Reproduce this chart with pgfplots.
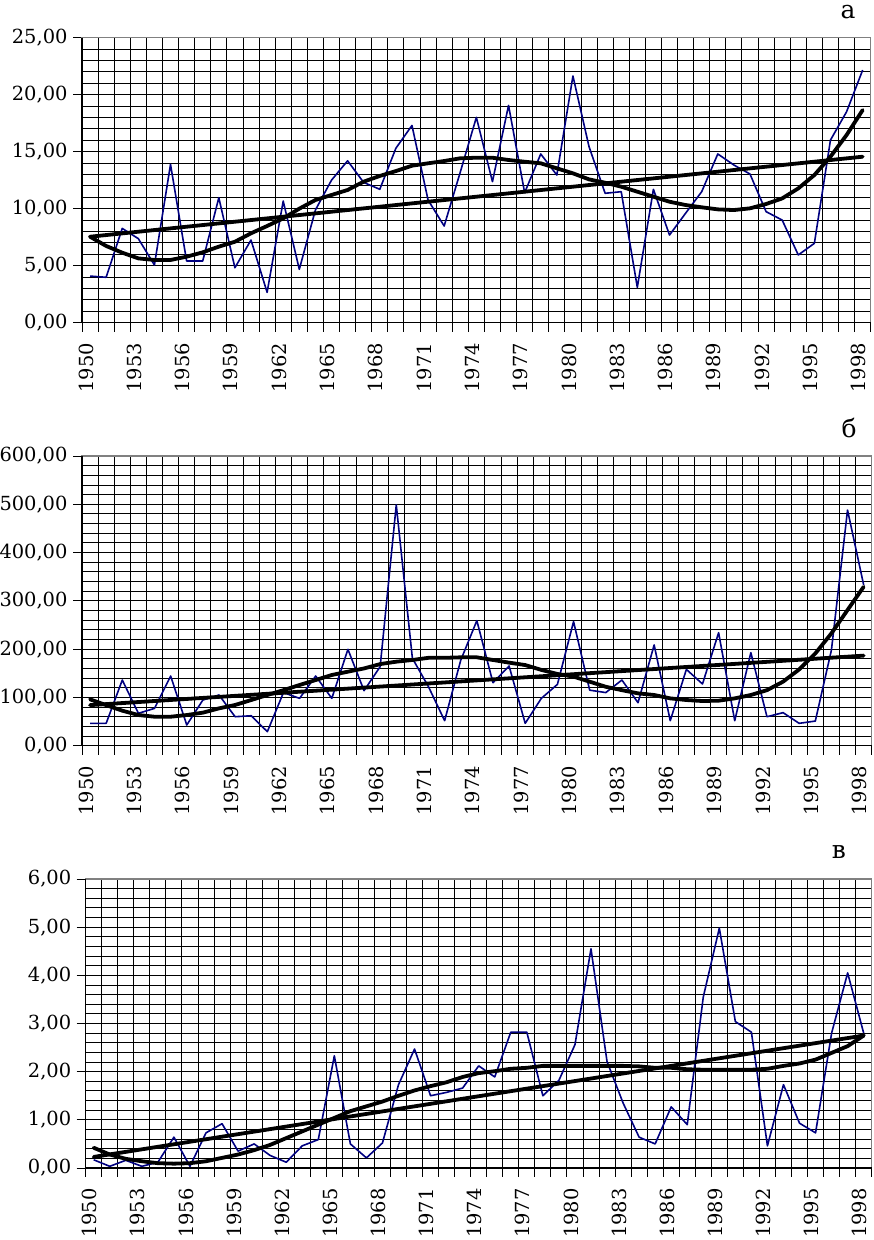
\documentclass[border=0pt]{standalone}
\usepackage{pgfplots}
\pgfplotsset{compat=1.18}
\usepackage{fontspec}
\setmainfont{DejaVu Serif}
\definecolor{navyb}{RGB}{0,0,128}
\definecolor{frameg}{RGB}{128,128,128}

\pgfplotstableread{
year a b c
1950 4.09 46.3 0.17
1951 3.98 46.3 0.035
1952 8.27 136 0.16
1953 7.37 67 0.035
1954 5.06 77.3 0.12
1955 13.89 144.3 0.64
1956 5.41 42.8 0.035
1957 5.41 94.6 0.73
1958 10.96 105 0.92
1959 4.82 60 0.35
1960 7.25 62 0.50
1961 2.66 29 0.26
1962 10.67 110 0.12
1963 4.68 98 0.46
1964 9.88 144.3 0.59
1965 12.5 98 2.33
1966 14.2 199.6 0.50
1967 12.3 114 0.21
1968 11.7 163.7 0.52
1969 15.3 498.6 1.73
1970 17.3 181 2.47
1971 10.76 122 1.50
1972 8.48 51.8 1.57
1973 13.2 177 1.66
1974 18.01 259 2.12
1975 12.37 130.5 1.89
1976 19.06 165 2.82
1977 11.4 46.3 2.82
1978 14.8 98 1.50
1979 12.95 127 1.82
1980 21.64 257 2.56
1981 15.44 115 4.55
1982 11.35 110 2.21
1983 11.49 136 1.35
1984 3.1 89 0.64
1985 11.7 208.6 0.50
1986 7.69 51.8 1.27
1987 9.6 158 0.90
1988 11.49 127.8 3.55
1989 14.8 234 4.98
1990 13.83 51.8 3.04
1991 13.04 192.7 2.82
1992 9.74 60 0.46
1993 9.0 68.4 1.73
1994 5.94 46.3 0.93
1995 6.96 51 0.73
1996 16.02 198 2.80
1997 18.5 488 4.05
1998 22.16 333 2.80
}\rawdata

\pgfplotstableread{
year a b c
1950 7.54 96 0.42
1951 6.73 84 0.28
1952 6.14 72.5 0.19
1953 5.64 63.5 0.14
1954 5.50 60 0.10
1955 5.50 60 0.09
1956 5.79 63.5 0.10
1957 6.17 68.4 0.14
1958 6.67 77.3 0.21
1959 7.10 84.3 0.28
1960 7.84 94.6 0.37
1961 8.48 105 0.48
1962 9.15 115 0.62
1963 10.0 125.7 0.76
1964 10.76 136 0.90
1965 11.2 146.4 1.04
1966 11.64 153.3 1.18
1967 12.37 160 1.28
1968 12.87 169 1.38
1969 13.3 174 1.50
1970 13.77 177.5 1.61
1971 13.98 182 1.70
1972 14.18 182 1.78
1973 14.42 183 1.89
1974 14.47 183 1.97
1975 14.47 177.5 2.01
1976 14.27 172 2.06
1977 14.12 167 2.08
1978 13.98 157 2.12
1979 13.54 148.5 2.12
1980 13.1 143 2.12
1981 12.57 132.6 2.12
1982 12.28 122 2.12
1983 11.93 115 2.12
1984 11.49 108.4 2.11
1985 11.05 105 2.08
1986 10.61 98 2.08
1987 10.32 94.6 2.05
1988 10.12 92.5 2.04
1989 9.94 93.2 2.04
1990 9.88 98 2.04
1991 10.03 105 2.04
1992 10.41 115 2.06
1993 10.9 132.6 2.12
1994 11.78 158 2.17
1995 12.95 191 2.25
1996 14.56 232.7 2.39
1997 16.46 281 2.53
1998 18.65 329 2.75
}\polydata

\pgfplotstableread{
year a b c
1950 7.54 84 0.23
1998 14.56 186.5 2.75
}\lindata

\pgfplotsset{
  panel/.style={
    scale only axis,
    xmin=1949.5, xmax=1998.5,
    xtick={1949.5,1950.5,...,1998.5},
    xticklabels={},
    extra x ticks={1950,1953,...,1998},
    extra x tick labels={1950,1953,1956,1959,1962,1965,1968,1971,1974,1977,1980,1983,1986,1989,1992,1995,1998},
    extra x tick style={grid=none, major tick length=0pt,
      xticklabel style={xshift=-4bp, yshift=-17bp, rotate=90, anchor=east}},
    xmajorgrids, ymajorgrids, yminorgrids,
    minor y tick num=4,
    major grid style={black, line width=0.9bp},
    minor grid style={black, line width=0.9bp},
    tick align=outside, tick pos=left,
    major tick length=9bp, minor tick length=0pt,
    tick style={black, line width=0.9bp},
    axis line style={frameg, line width=1.3bp},
    tick label style={font=\fontsize{19.5}{21}\selectfont, black},
    yticklabel style={xshift=-2bp},
    clip=false,
  },
  blueline/.style={navyb, line width=1.6bp, line join=round},
  blackline/.style={black, line width=3.8bp, line join=round, line cap=round},
}

\begin{document}
\begin{tikzpicture}[x=1bp,y=1bp]
\useasboundingbox (0,0) rectangle (874,1240);

% panel a
\begin{axis}[panel, at={(82bp,917.3bp)}, anchor=south west,
  width=788.7bp, height=285bp, ymin=0, ymax=25,
  ytick={0,5,...,25},
  yticklabels={{0,00},{5,00},{10,00},{15,00},{20,00},{25,00}}]
\addplot[blueline] table[x=year,y=a]{\rawdata};
\addplot[blackline] table[x=year,y=a]{\lindata};
\addplot[blackline] table[x=year,y=a]{\polydata};
\draw[black, line width=1.1bp] (rel axis cs:0,1) -- (rel axis cs:0,0) -- (rel axis cs:1,0);
\end{axis}

% panel b
\begin{axis}[panel, at={(82bp,494.3bp)}, anchor=south west,
  width=789.7bp, height=289.7bp, ymin=0, ymax=600,
  ytick={0,100,...,600},
  yticklabels={{0,00},{100,00},{200,00},{300,00},{400,00},{500,00},{600,00}}]
\addplot[blueline] table[x=year,y=b]{\rawdata};
\addplot[blackline] table[x=year,y=b]{\lindata};
\addplot[blackline] table[x=year,y=b]{\polydata};
\draw[black, line width=1.1bp] (rel axis cs:0,1) -- (rel axis cs:0,0) -- (rel axis cs:1,0);
\end{axis}

% panel c
\begin{axis}[panel, at={(85.7bp,72bp)}, anchor=south west,
  width=786bp, height=289bp, ymin=0, ymax=6,
  ytick={0,1,...,6},
  yticklabels={{0,00},{1,00},{2,00},{3,00},{4,00},{5,00},{6,00}}]
\addplot[blueline] table[x=year,y=c]{\rawdata};
\addplot[blackline] table[x=year,y=c]{\lindata};
\addplot[blackline] table[x=year,y=c]{\polydata};
\draw[black, line width=1.1bp] (rel axis cs:0,1) -- (rel axis cs:0,0) -- (rel axis cs:1,0);
\end{axis}

\node[anchor=base, font=\fontsize{25}{27}\selectfont] at (848,1221) {а};
\node[anchor=base, font=\fontsize{25}{27}\selectfont] at (849,802) {б};
\node[anchor=base, font=\fontsize{25}{27}\selectfont] at (839,381) {в};
\end{tikzpicture}
\end{document}
